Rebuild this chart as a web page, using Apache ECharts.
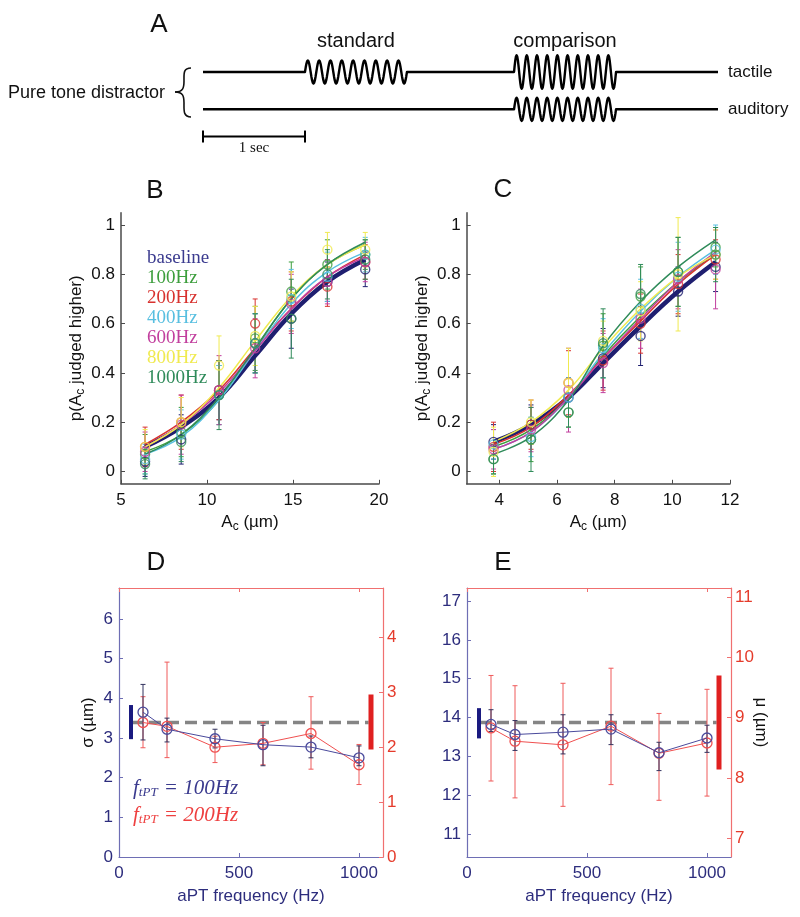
<!DOCTYPE html>
<html><head><meta charset="utf-8">
<script src="https://cdn.jsdelivr.net/npm/echarts@6/dist/echarts.min.js"></script>
<style>html,body{margin:0;padding:0;background:#fff}#c{width:800px;height:917px}</style>
</head><body><div id="c"></div>
<script>
// ================= DATA =================
const conditions = ['baseline','100Hz','200Hz','400Hz','600Hz','800Hz','1000Hz'];
const condColors = ['#1f1f70','#3c9e3c','#d8322f','#58bfe0','#c23f9e','#f0ea50','#2f8b5a'];
const legendColors = ['#3b3b8f','#3c9e3c','#d8322f','#58bfe0','#c23f9e','#f0ea50','#2f8b5a'];

// Panel B (standard ~12.8 um)
const bAmps = [6.4, 8.5, 10.7, 12.8, 14.9, 17.0, 19.2];
const bPoints = [
  [0.04, 0.13, 0.33, 0.52, 0.62, 0.77, 0.82],
  [0.07, 0.16, 0.31, 0.54, 0.73, 0.84, 0.88],
  [0.10, 0.20, 0.33, 0.60, 0.69, 0.75, 0.85],
  [0.05, 0.15, 0.31, 0.52, 0.70, 0.79, 0.88],
  [0.08, 0.19, 0.33, 0.50, 0.68, 0.77, 0.85],
  [0.10, 0.20, 0.43, 0.55, 0.71, 0.90, 0.90],
  [0.03, 0.12, 0.31, 0.52, 0.62, 0.80, 0.86]
];
const bErr = [
  [0.06, 0.10, 0.12, 0.12, 0.12, 0.08, 0.07],
  [0.08, 0.10, 0.12, 0.13, 0.12, 0.10, 0.06],
  [0.08, 0.11, 0.12, 0.10, 0.12, 0.08, 0.07],
  [0.06, 0.10, 0.12, 0.12, 0.12, 0.10, 0.07],
  [0.08, 0.12, 0.14, 0.12, 0.12, 0.09, 0.08],
  [0.07, 0.10, 0.12, 0.12, 0.10, 0.07, 0.07],
  [0.06, 0.08, 0.14, 0.12, 0.16, 0.10, 0.08]
];
const bFit = [
  [0.10, 0.18, 0.30, 0.47, 0.64, 0.77, 0.86],
  [0.08, 0.15, 0.29, 0.50, 0.70, 0.84, 0.92],
  [0.11, 0.20, 0.33, 0.50, 0.66, 0.79, 0.88],
  [0.07, 0.14, 0.29, 0.49, 0.68, 0.81, 0.89],
  [0.10, 0.19, 0.32, 0.49, 0.66, 0.79, 0.87],
  [0.10, 0.19, 0.34, 0.53, 0.71, 0.84, 0.92],
  [0.07, 0.15, 0.30, 0.50, 0.70, 0.84, 0.93]
];

// Panel C (standard ~7.6 um)
const cAmps = [3.8, 5.1, 6.4, 7.6, 8.9, 10.2, 11.5];
const cPoints = [
  [0.12, 0.19, 0.30, 0.46, 0.55, 0.73, 0.83],
  [0.05, 0.13, 0.24, 0.51, 0.71, 0.81, 0.91],
  [0.10, 0.19, 0.36, 0.45, 0.60, 0.76, 0.86],
  [0.11, 0.14, 0.30, 0.50, 0.66, 0.79, 0.90],
  [0.09, 0.17, 0.33, 0.44, 0.62, 0.78, 0.82],
  [0.08, 0.20, 0.36, 0.53, 0.65, 0.80, 0.88],
  [0.05, 0.13, 0.24, 0.52, 0.72, 0.81, 0.88]
];
const cErr = [
  [0.07, 0.08, 0.08, 0.12, 0.12, 0.10, 0.10],
  [0.06, 0.09, 0.06, 0.13, 0.12, 0.14, 0.08],
  [0.10, 0.10, 0.13, 0.12, 0.12, 0.12, 0.08],
  [0.06, 0.08, 0.08, 0.12, 0.12, 0.14, 0.10],
  [0.08, 0.09, 0.17, 0.12, 0.12, 0.12, 0.16],
  [0.10, 0.09, 0.14, 0.08, 0.12, 0.23, 0.10],
  [0.06, 0.13, 0.06, 0.14, 0.12, 0.14, 0.11]
];
const cFit = [
  [0.12, 0.19, 0.30, 0.44, 0.59, 0.73, 0.85],
  [0.10, 0.17, 0.30, 0.47, 0.63, 0.77, 0.88],
  [0.11, 0.18, 0.31, 0.46, 0.61, 0.76, 0.88],
  [0.09, 0.16, 0.30, 0.48, 0.65, 0.79, 0.90],
  [0.09, 0.16, 0.30, 0.46, 0.62, 0.77, 0.89],
  [0.12, 0.20, 0.33, 0.50, 0.66, 0.79, 0.88],
  [0.07, 0.14, 0.29, 0.51, 0.69, 0.83, 0.94]
];

// Panels D and E
const aptFreq = [100, 200, 400, 600, 800, 1000];
const dSig100   = [3.65, 3.22, 2.98, 2.83, 2.77, 2.50];
const dSig100Lo = [2.95, 2.90, 2.75, 2.30, 2.50, 2.30];
const dSig100Hi = [4.35, 3.50, 3.22, 3.32, 3.05, 2.80];
const dSig200   = [2.45, 2.38, 2.00, 2.07, 2.25, 1.68];
const dSig200Lo = [1.99, 1.81, 1.72, 1.68, 1.60, 1.32];
const dSig200Hi = [2.92, 3.55, 2.20, 2.45, 2.92, 2.05];
const dBase100 = 3.39, dBase100CI = [2.97, 3.83];
const dBase200 = 2.45, dBase200CI = [1.96, 2.96];

const eMu100   = [13.82, 13.56, 13.62, 13.70, 13.09, 13.47];
const eMu100Lo = [13.64, 13.15, 13.06, 13.30, 12.63, 13.10];
const eMu100Hi = [14.20, 13.92, 14.07, 14.07, 13.36, 13.80];
const eMu200   = [8.83, 8.61, 8.55, 8.86, 8.41, 8.58];
const eMu200Lo = [7.95, 7.67, 7.53, 7.89, 7.63, 7.70];
const eMu200Hi = [9.70, 9.53, 9.57, 9.82, 9.07, 9.47];
const eBase100 = 13.87, eBase100CI = [13.46, 14.24];
const eBase200 = 8.92, eBase200CI = [8.14, 9.70];
const baseBarFreq = [50, 1050];
const dashSpan = [50, 1040];

// tick labels
const bTicksX = [5, 10, 15, 20];
const cTicksX = [4, 6, 8, 10, 12];
const pTicksY = [0, 0.2, 0.4, 0.6, 0.8, 1];
const freqTicks = [0, 500, 1000];
const dTicksL = [0, 1, 2, 3, 4, 5, 6];
const dTicksR = [0, 1, 2, 3, 4];
const eTicksL = [11, 12, 13, 14, 15, 16, 17];
const eTicksR = [7, 8, 9, 10, 11];

// Panel A schematic (time in seconds)
const traceNames = ['tactile', 'auditory'];
const traceLevels = [0, -1];
const trialEnd = 5.05;
const burstTrace = [0, 0, 1];
const burstStart = [1.0, 3.05, 3.05];
const burstEnd = [2.0, 4.05, 4.05];
const burstCycles = [9, 10, 10];
const burstAmp = [0.31, 0.45, 0.31];
const burstLabel = ['standard', 'comparison', ''];
const scaleBar = [0, 1];
const scaleBarLevel = -1.73;

// ================= STYLE =================
const SANS = 'Liberation Sans, Arial, sans-serif';
const SERIF = 'Liberation Serif, Times New Roman, serif';
const NAVY = '#2d2d7d', NAVYLINE = '#6e6eb4', RED = '#e53b2b', REDLINE = '#f07070';
const GRAYAX = '#4a4a4a';
const plainNum = v => String(+v.toFixed(6));

function errRender(cap) {
  return function (params, api) {
    const x = api.value(0), lo = api.value(1), hi = api.value(2);
    const p1 = api.coord([x, lo]), p2 = api.coord([x, hi]);
    const st = {stroke: api.visual('color'), lineWidth: 1};
    return {type: 'group', children: [
      {type: 'line', shape: {x1: p1[0], y1: p1[1], x2: p2[0], y2: p2[1]}, style: st},
      {type: 'line', shape: {x1: p1[0] - cap, y1: p1[1], x2: p1[0] + cap, y2: p1[1]}, style: st},
      {type: 'line', shape: {x1: p2[0] - cap, y1: p2[1], x2: p2[0] + cap, y2: p2[1]}, style: st}
    ]};
  };
}

function traceRender(params, api) {
  const ti = params.dataIndex, lvl = traceLevels[ti];
  const pts = [api.coord([0, lvl])];
  const children = [];
  for (let b = 0; b < burstTrace.length; b++) {
    if (burstTrace[b] !== ti) continue;
    const s = api.coord([burstStart[b], lvl]), e = api.coord([burstEnd[b], lvl]);
    const ampPx = api.size([0, burstAmp[b]])[1];
    pts.push(s);
    const n = burstCycles[b] * 16;
    for (let k = 1; k <= n; k++) {
      const f = k / n;
      pts.push([s[0] + (e[0] - s[0]) * f, s[1] - ampPx * Math.sin(2 * Math.PI * burstCycles[b] * f)]);
    }
    if (burstLabel[b]) children.push({type: 'text', style: {text: burstLabel[b], x: (s[0] + e[0]) / 2, y: s[1] - 31,
      align: 'center', verticalAlign: 'middle', font: '20px ' + SANS, fill: '#111'}});
  }
  const endP = api.coord([trialEnd, lvl]);
  pts.push(endP);
  children.push({type: 'polyline', shape: {points: pts}, style: {stroke: '#000', lineWidth: 2.4, fill: null, lineJoin: 'round'}});
  children.push({type: 'text', style: {text: traceNames[ti], x: endP[0] + 10, y: endP[1], align: 'left',
    verticalAlign: 'middle', font: '17px ' + SANS, fill: '#111'}});
  return {type: 'group', children};
}

function scaleRender(params, api) {
  const a = api.coord([api.value(0), scaleBarLevel]), b = api.coord([api.value(1), scaleBarLevel]);
  const st = {stroke: '#000', lineWidth: 2};
  return {type: 'group', children: [
    {type: 'line', shape: {x1: a[0], y1: a[1], x2: b[0], y2: b[1]}, style: st},
    {type: 'line', shape: {x1: a[0], y1: a[1] - 6, x2: a[0], y2: a[1] + 6}, style: st},
    {type: 'line', shape: {x1: b[0], y1: b[1] - 6, x2: b[0], y2: b[1] + 6}, style: st},
    {type: 'text', style: {text: '1 sec', x: (a[0] + b[0]) / 2, y: a[1] + 12, align: 'center', verticalAlign: 'middle',
      font: '15px ' + SERIF, fill: '#111'}}
  ]};
}

// ================= AXES =================
function psychX(grid, min, max, ticks) {
  return {gridIndex: grid, type: 'value', min, max,
    axisLine: {show: true, onZero: false, lineStyle: {color: GRAYAX, width: 1.5}},
    axisTick: {show: true, inside: true, length: 4, customValues: ticks, lineStyle: {color: GRAYAX}},
    axisLabel: {show: true, customValues: ticks, margin: 8, color: '#111', fontSize: 17, fontFamily: SANS, formatter: plainNum},
    splitLine: {show: false},
    name: 'A{sub|c} (µm)', nameLocation: 'middle', nameGap: 28, nameMoveOverlap: false,
    nameTextStyle: {color: '#111', fontSize: 17, fontFamily: SANS,
      rich: {sub: {fontSize: 12, fontFamily: SANS, color: '#111', padding: [9, 0, 0, 0]}}}};
}
function psychY(grid) {
  return {gridIndex: grid, type: 'value', min: -0.05, max: 1.05,
    axisLine: {show: true, onZero: false, lineStyle: {color: GRAYAX, width: 1.5}},
    axisTick: {show: true, inside: true, length: 4, customValues: pTicksY, lineStyle: {color: GRAYAX}},
    axisLabel: {show: true, customValues: pTicksY, margin: 6, color: '#111', fontSize: 17, fontFamily: SANS, formatter: plainNum},
    splitLine: {show: false},
    name: 'p(A{sub|c} judged higher)', nameLocation: 'middle', nameGap: 34, nameRotate: 90, nameMoveOverlap: false,
    nameTextStyle: {color: '#111', fontSize: 17, fontFamily: SANS,
      rich: {sub: {fontSize: 12, fontFamily: SANS, color: '#111', padding: [9, 0, 0, 0]}}}};
}
function freqX(grid) {
  return {gridIndex: grid, type: 'value', min: 0, max: 1100,
    axisLine: {show: true, onZero: false, lineStyle: {color: NAVYLINE, width: 1.2}},
    axisTick: {show: true, inside: true, length: 4, customValues: freqTicks, lineStyle: {color: NAVYLINE}},
    axisLabel: {show: true, customValues: freqTicks, margin: 8, color: NAVY, fontSize: 17, fontFamily: SANS, formatter: plainNum},
    splitLine: {show: false},
    name: 'aPT frequency (Hz)', nameLocation: 'middle', nameGap: 31, nameMoveOverlap: false,
    nameTextStyle: {color: NAVY, fontSize: 17, fontFamily: SANS}};
}
function topX(grid) {
  return {gridIndex: grid, type: 'value', min: 0, max: 1100, position: 'top',
    axisLine: {show: true, onZero: false, lineStyle: {color: REDLINE, width: 1.2}},
    axisTick: {show: true, inside: true, length: 4, customValues: freqTicks, lineStyle: {color: REDLINE}},
    axisLabel: {show: false}, splitLine: {show: false}};
}
function sideY(grid, pos, min, max, ticks, lineColor, labelColor, name, gap, rot) {
  return {gridIndex: grid, type: 'value', min, max, position: pos,
    axisLine: {show: true, onZero: false, lineStyle: {color: lineColor, width: 1.2}},
    axisTick: {show: true, inside: true, length: 4, customValues: ticks, lineStyle: {color: lineColor}},
    axisLabel: {show: true, customValues: ticks, margin: pos === 'left' ? 6 : 4, color: labelColor, fontSize: 17, fontFamily: SANS, formatter: plainNum},
    splitLine: {show: false},
    name: name, nameLocation: 'middle', nameGap: gap, nameRotate: rot, nameMoveOverlap: false,
    nameTextStyle: {color: '#111', fontSize: 17, fontFamily: SANS}};
}

const grids = [
  {left: 203, top: 34.7, width: 515, height: 149.2},
  {left: 121, top: 212.7, width: 258, height: 271.1},
  {left: 466.7, top: 212.7, width: 263.3, height: 271.1},
  {left: 119, top: 588, width: 264, height: 269},
  {left: 467, top: 588, width: 264, height: 269}
];

const xAxes = [
  {gridIndex: 0, type: 'value', min: 0, max: trialEnd, show: false},
  psychX(1, 5, 20, bTicksX),
  psychX(2, 2.87, 12, cTicksX),
  freqX(3), topX(3),
  freqX(4), topX(4)
];
const yAxes = [
  {gridIndex: 0, type: 'value', min: -3, max: 1, show: false},
  psychY(1), psychY(2),
  sideY(3, 'left', 0, 2 * dBase100, dTicksL, NAVYLINE, NAVY, 'σ (µm)', 22, 90),
  sideY(3, 'right', 0, 2 * dBase200, dTicksR, REDLINE, RED, '', 20, -90),
  sideY(4, 'left', 0.75 * eBase100, 1.25 * eBase100, eTicksL, NAVYLINE, NAVY, '', 22, 90),
  sideY(4, 'right', 0.75 * eBase200, 1.25 * eBase200, eTicksR, REDLINE, RED, 'μ (µm)', 21, -90)
];

// ================= SERIES =================
const series = [];
series.push({type: 'custom', xAxisIndex: 0, yAxisIndex: 0, renderItem: traceRender,
  data: traceLevels.map((l, i) => [trialEnd, l, i]), encode: {x: 0, y: 1}, silent: true});
series.push({type: 'custom', xAxisIndex: 0, yAxisIndex: 0, renderItem: scaleRender,
  data: [scaleBar], encode: {x: [0, 1]}, silent: true});

function addPsych(axisIdx, amps, pts, err, fit) {
  conditions.forEach((name, i) => {
    const col = condColors[i];
    series.push({type: 'custom', name, xAxisIndex: axisIdx, yAxisIndex: axisIdx, renderItem: errRender(2.5),
      itemStyle: {color: col, opacity: 0.85}, encode: {x: 0, y: [1, 2]}, z: 2,
      data: amps.map((a, k) => [a, pts[i][k] - err[i][k], pts[i][k] + err[i][k]])});
    series.push({type: 'line', name, xAxisIndex: axisIdx, yAxisIndex: axisIdx, smooth: 0.4,
      showSymbol: false, symbol: 'none', z: i === 0 ? 3 : 4,
      lineStyle: {color: col, width: i === 0 ? 4.5 : 1.5}, itemStyle: {color: col},
      data: amps.map((a, k) => [a, fit[i][k]])});
    series.push({type: 'scatter', name, xAxisIndex: axisIdx, yAxisIndex: axisIdx, symbol: 'circle', symbolSize: 9, z: 5,
      itemStyle: {color: 'rgba(0,0,0,0)', borderColor: col, borderWidth: 1.4},
      data: amps.map((a, k) => [a, pts[i][k]])});
  });
}
addPsych(1, bAmps, bPoints, bErr, bFit);
addPsych(2, cAmps, cPoints, cErr, cFit);

function addParam(xIdx, yL, yR, v1, lo1, hi1, v2, lo2, hi2, base1, base1CI, base2, base2CI) {
  series.push({type: 'line', xAxisIndex: xIdx, yAxisIndex: yL, symbol: 'none', z: 2,
    lineStyle: {color: '#858585', width: 3.5, type: [12, 6]}, data: dashSpan.map(f => [f, base1])});
  series.push({type: 'line', xAxisIndex: xIdx, yAxisIndex: yL, symbol: 'none', z: 3,
    lineStyle: {color: '#1a1a80', width: 4}, data: base1CI.map(v => [baseBarFreq[0], v])});
  series.push({type: 'line', xAxisIndex: xIdx, yAxisIndex: yR, symbol: 'none', z: 3,
    lineStyle: {color: '#e02020', width: 5}, data: base2CI.map(v => [baseBarFreq[1], v])});
  series.push({type: 'custom', xAxisIndex: xIdx, yAxisIndex: yR, renderItem: errRender(2.5), z: 3,
    itemStyle: {color: '#ef5a5a'}, encode: {x: 0, y: [1, 2]},
    data: aptFreq.map((f, k) => [f, lo2[k], hi2[k]])});
  series.push({type: 'custom', xAxisIndex: xIdx, yAxisIndex: yL, renderItem: errRender(2.5), z: 3,
    itemStyle: {color: '#33335f'}, encode: {x: 0, y: [1, 2]},
    data: aptFreq.map((f, k) => [f, lo1[k], hi1[k]])});
  series.push({type: 'line', xAxisIndex: xIdx, yAxisIndex: yR, symbol: 'circle', symbolSize: 10, showSymbol: true, z: 4,
    lineStyle: {color: '#f05050', width: 1}, itemStyle: {color: 'rgba(0,0,0,0)', borderColor: '#f05050', borderWidth: 1.3},
    data: aptFreq.map((f, k) => [f, v2[k]])});
  series.push({type: 'line', xAxisIndex: xIdx, yAxisIndex: yL, symbol: 'circle', symbolSize: 10, showSymbol: true, z: 5,
    lineStyle: {color: '#4a4a9c', width: 1}, itemStyle: {color: 'rgba(0,0,0,0)', borderColor: '#4a4a9c', borderWidth: 1.3},
    data: aptFreq.map((f, k) => [f, v1[k]])});
}
addParam(3, 3, 4, dSig100, dSig100Lo, dSig100Hi, dSig200, dSig200Lo, dSig200Hi, dBase100, dBase100CI, dBase200, dBase200CI);
addParam(5, 5, 6, eMu100, eMu100Lo, eMu100Hi, eMu200, eMu200Lo, eMu200Hi, eBase100, eBase100CI, eBase200, eBase200CI);

// ================= GRAPHIC (labels) =================
const letterStyle = (t, x, y) => ({type: 'text', x, y, style: {text: t, font: '26px ' + SANS, fill: '#111', align: 'center', verticalAlign: 'middle'}});
const fLegend = (val, col, y) => ({type: 'text', x: 133, y, style: {
  text: '{f|f}{s|tPT}{f| = ' + val + 'Hz}', fill: col, verticalAlign: 'middle', align: 'left',
  rich: {f: {font: 'italic 21px ' + SERIF, fill: col}, s: {font: 'italic 13px ' + SERIF, fill: col, padding: [10, 1, 0, 0]}}}});
const braceStyle = {stroke: '#111', lineWidth: 1.6, fill: null};
const brace = [
  {x1: 191, y1: 68, cpx1: 183, cpy1: 68, cpx2: 184, cpy2: 74, x2: 184, y2: 81},
  {x1: 184, y1: 81, cpx1: 184, cpy1: 88, cpx2: 183, cpy2: 92, x2: 175, y2: 92},
  {x1: 175, y1: 92, cpx1: 183, cpy1: 92, cpx2: 184, cpy2: 96, x2: 184, y2: 103},
  {x1: 184, y1: 103, cpx1: 184, cpy1: 110, cpx2: 183, cpy2: 117, x2: 191, y2: 117}
].map(s => ({type: 'bezierCurve', shape: s, style: braceStyle}));

const graphic = [
  letterStyle('A', 159, 25),
  letterStyle('B', 155, 191),
  letterStyle('C', 503, 190),
  letterStyle('D', 156, 563),
  letterStyle('E', 503, 563),
  {type: 'text', x: 8, y: 93, style: {text: 'Pure tone distractor', font: '18px ' + SANS, fill: '#111', verticalAlign: 'middle'}},
  ...brace,
  fLegend('100', '#3a3a8e', 788),
  fLegend('200', '#ee4040', 815)
];

const chart = echarts.init(document.getElementById('c'), null, {renderer: 'canvas'});
chart.setOption({
  animation: false,
  backgroundColor: '#fff',
  grid: grids,
  xAxis: xAxes,
  yAxis: yAxes,
  legend: {show: true, orient: 'vertical', left: 142, top: 249, itemGap: 1, itemWidth: 0, itemHeight: 0, icon: 'rect',
    selectedMode: false, padding: 0,
    textStyle: {fontFamily: SERIF, fontSize: 19, lineHeight: 19},
    data: conditions.map((c, i) => ({name: c, textStyle: {color: legendColors[i]}}))},
  series: series,
  graphic: graphic
});
</script></body></html>
